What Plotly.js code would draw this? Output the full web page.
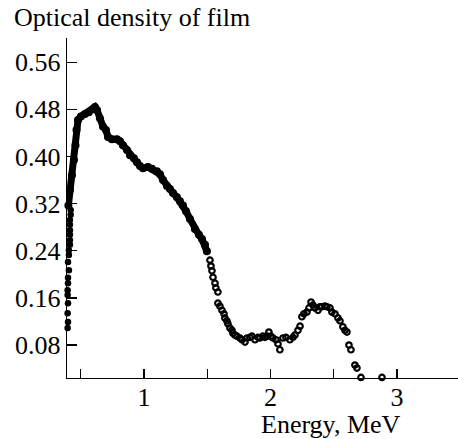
<!DOCTYPE html>
<html>
<head>
<meta charset="utf-8">
<script src="https://cdn.plot.ly/plotly-3.0.1.min.js"></script>
<style>
  html, body { margin: 0; padding: 0; background: #fff; }
  #chart { width: 458px; height: 439px; }
</style>
</head>
<body>
<div id="chart"></div>
<script>
// Film optical density versus electron energy (MeV).

// Dense part of the spectrum, where the measured points merge into a thick band
const denseEnergy = [0.403,0.415,0.431,0.447,0.459,0.467,0.479,0.502,0.534,0.565,0.597,0.613,0.629,0.652,0.676,0.700,0.716,0.747,0.787,0.811,0.834,0.866,0.890,0.921,0.945,0.969,0.993,1.032,1.064,1.103,1.127,1.151,1.182,1.206,1.230,1.261,1.285,1.309,1.333,1.364,1.403,1.435,1.459,1.483,1.498];
const denseDensity = [0.317,0.343,0.368,0.394,0.419,0.445,0.462,0.468,0.472,0.475,0.480,0.484,0.479,0.465,0.451,0.445,0.433,0.429,0.429,0.426,0.419,0.411,0.402,0.397,0.390,0.384,0.380,0.382,0.379,0.375,0.370,0.360,0.350,0.345,0.338,0.331,0.324,0.317,0.307,0.294,0.277,0.267,0.260,0.250,0.239];

// Low-energy edge, points along the threshold
const edgeEnergy = [0.389,0.389,0.397,0.400,0.397,0.400,0.397,0.397,0.400,0.400,0.407,0.400,0.407,0.407,0.415,0.415,0.415,0.415,0.415,0.415,0.421,0.421];
const edgeDensity = [0.100,0.105,0.109,0.119,0.134,0.151,0.165,0.173,0.185,0.194,0.207,0.221,0.233,0.241,0.250,0.258,0.267,0.275,0.284,0.292,0.301,0.309];

// High-energy tail: individual measured points
const tailEnergy = [1.522,1.530,1.538,1.546,1.562,1.569,1.585,1.585,1.601,1.617,1.633,1.640,1.656,1.664,1.680,1.696,1.704,1.719,1.735,1.759,1.775,1.799,1.815,1.838,1.854,1.878,1.902,1.917,1.941,1.957,1.973,1.988,2.004,2.020,2.044,2.060,2.075,2.099,2.123,2.154,2.178,2.194,2.218,2.234,2.249,2.265,2.289,2.305,2.321,2.336,2.352,2.376,2.392,2.407,2.431,2.447,2.471,2.486,2.510,2.534,2.550,2.573,2.589,2.605,2.621,2.637,2.668,2.684,2.716,2.882];
const tailDensity = [0.224,0.214,0.206,0.195,0.185,0.177,0.170,0.151,0.146,0.139,0.133,0.126,0.121,0.116,0.109,0.105,0.100,0.097,0.095,0.092,0.089,0.085,0.092,0.093,0.095,0.089,0.093,0.092,0.095,0.093,0.095,0.102,0.095,0.092,0.089,0.082,0.072,0.092,0.093,0.089,0.093,0.097,0.105,0.112,0.128,0.133,0.136,0.143,0.153,0.148,0.143,0.139,0.145,0.145,0.146,0.145,0.143,0.136,0.133,0.126,0.121,0.111,0.105,0.102,0.080,0.072,0.046,0.041,0.025,0.025];

// Axis ticks
const xTickVals = [0.5, 1, 1.5, 2, 2.5, 3];
const xTickText = ['', '1', '', '2', '', '3'];
const yTickVals = [0.08, 0.16, 0.24, 0.32, 0.40, 0.48, 0.56];
const yTickText = ['0.08', '0.16', '0.24', '0.32', '0.40', '0.48', '0.56'];

const serif = 'Liberation Serif';
const textSize = 26;

const traces = [
  {
    x: denseEnergy, y: denseDensity,
    mode: 'lines+markers',
    line: { color: '#000', width: 7 },
    marker: { color: '#000', size: 8 },
    cliponaxis: false,
    hoverinfo: 'x+y'
  },
  {
    x: edgeEnergy, y: edgeDensity,
    mode: 'markers',
    marker: { color: '#000', size: 6.5 },
    cliponaxis: false,
    hoverinfo: 'x+y'
  },
  {
    x: tailEnergy, y: tailDensity,
    mode: 'markers',
    marker: { symbol: 'circle-open', color: '#000', size: 5.5, line: { width: 2.2, color: '#000' } },
    cliponaxis: false,
    hoverinfo: 'x+y'
  }
];

const layout = {
  width: 458,
  height: 439,
  margin: { l: 67, r: 0, t: 38, b: 61 },
  paper_bgcolor: '#fff',
  plot_bgcolor: '#fff',
  showlegend: false,
  font: { family: serif, size: textSize, color: '#000' },
  title: {
    text: 'Optical density of film',
    font: { family: serif, size: textSize, color: '#000' },
    xref: 'container', x: 14 / 458, xanchor: 'left',
    yref: 'container', y: 1 - 8 / 439, yanchor: 'top'
  },
  xaxis: {
    range: [0.392, 3.483],
    showline: true, linecolor: '#000', linewidth: 1.3,
    ticks: 'inside', ticklen: 9, tickwidth: 1.3, tickcolor: '#000',
    tickmode: 'array', tickvals: xTickVals, ticktext: xTickText,
    ticklabelstandoff: -5,
    showgrid: false, zeroline: false,
    tickfont: { family: serif, size: textSize, color: '#000' }
  },
  yaxis: {
    range: [0.0241, 0.601],
    showline: true, linecolor: '#000', linewidth: 1.3,
    ticks: 'inside', ticklen: 10, tickwidth: 1.3, tickcolor: '#000',
    tickmode: 'array', tickvals: yTickVals, ticktext: yTickText,
    showgrid: false, zeroline: false,
    tickfont: { family: serif, size: textSize, color: '#000' }
  },
  annotations: [
    {
      text: 'Energy, MeV',
      xref: 'paper', yref: 'paper',
      x: (331 - 67) / 391, y: -(424 - 378) / 340,
      xanchor: 'center', yanchor: 'middle',
      showarrow: false,
      font: { family: serif, size: textSize, color: '#000' }
    }
  ]
};

Plotly.newPlot('chart', traces, layout, { displayModeBar: false, staticPlot: true });
</script>
</body>
</html>
